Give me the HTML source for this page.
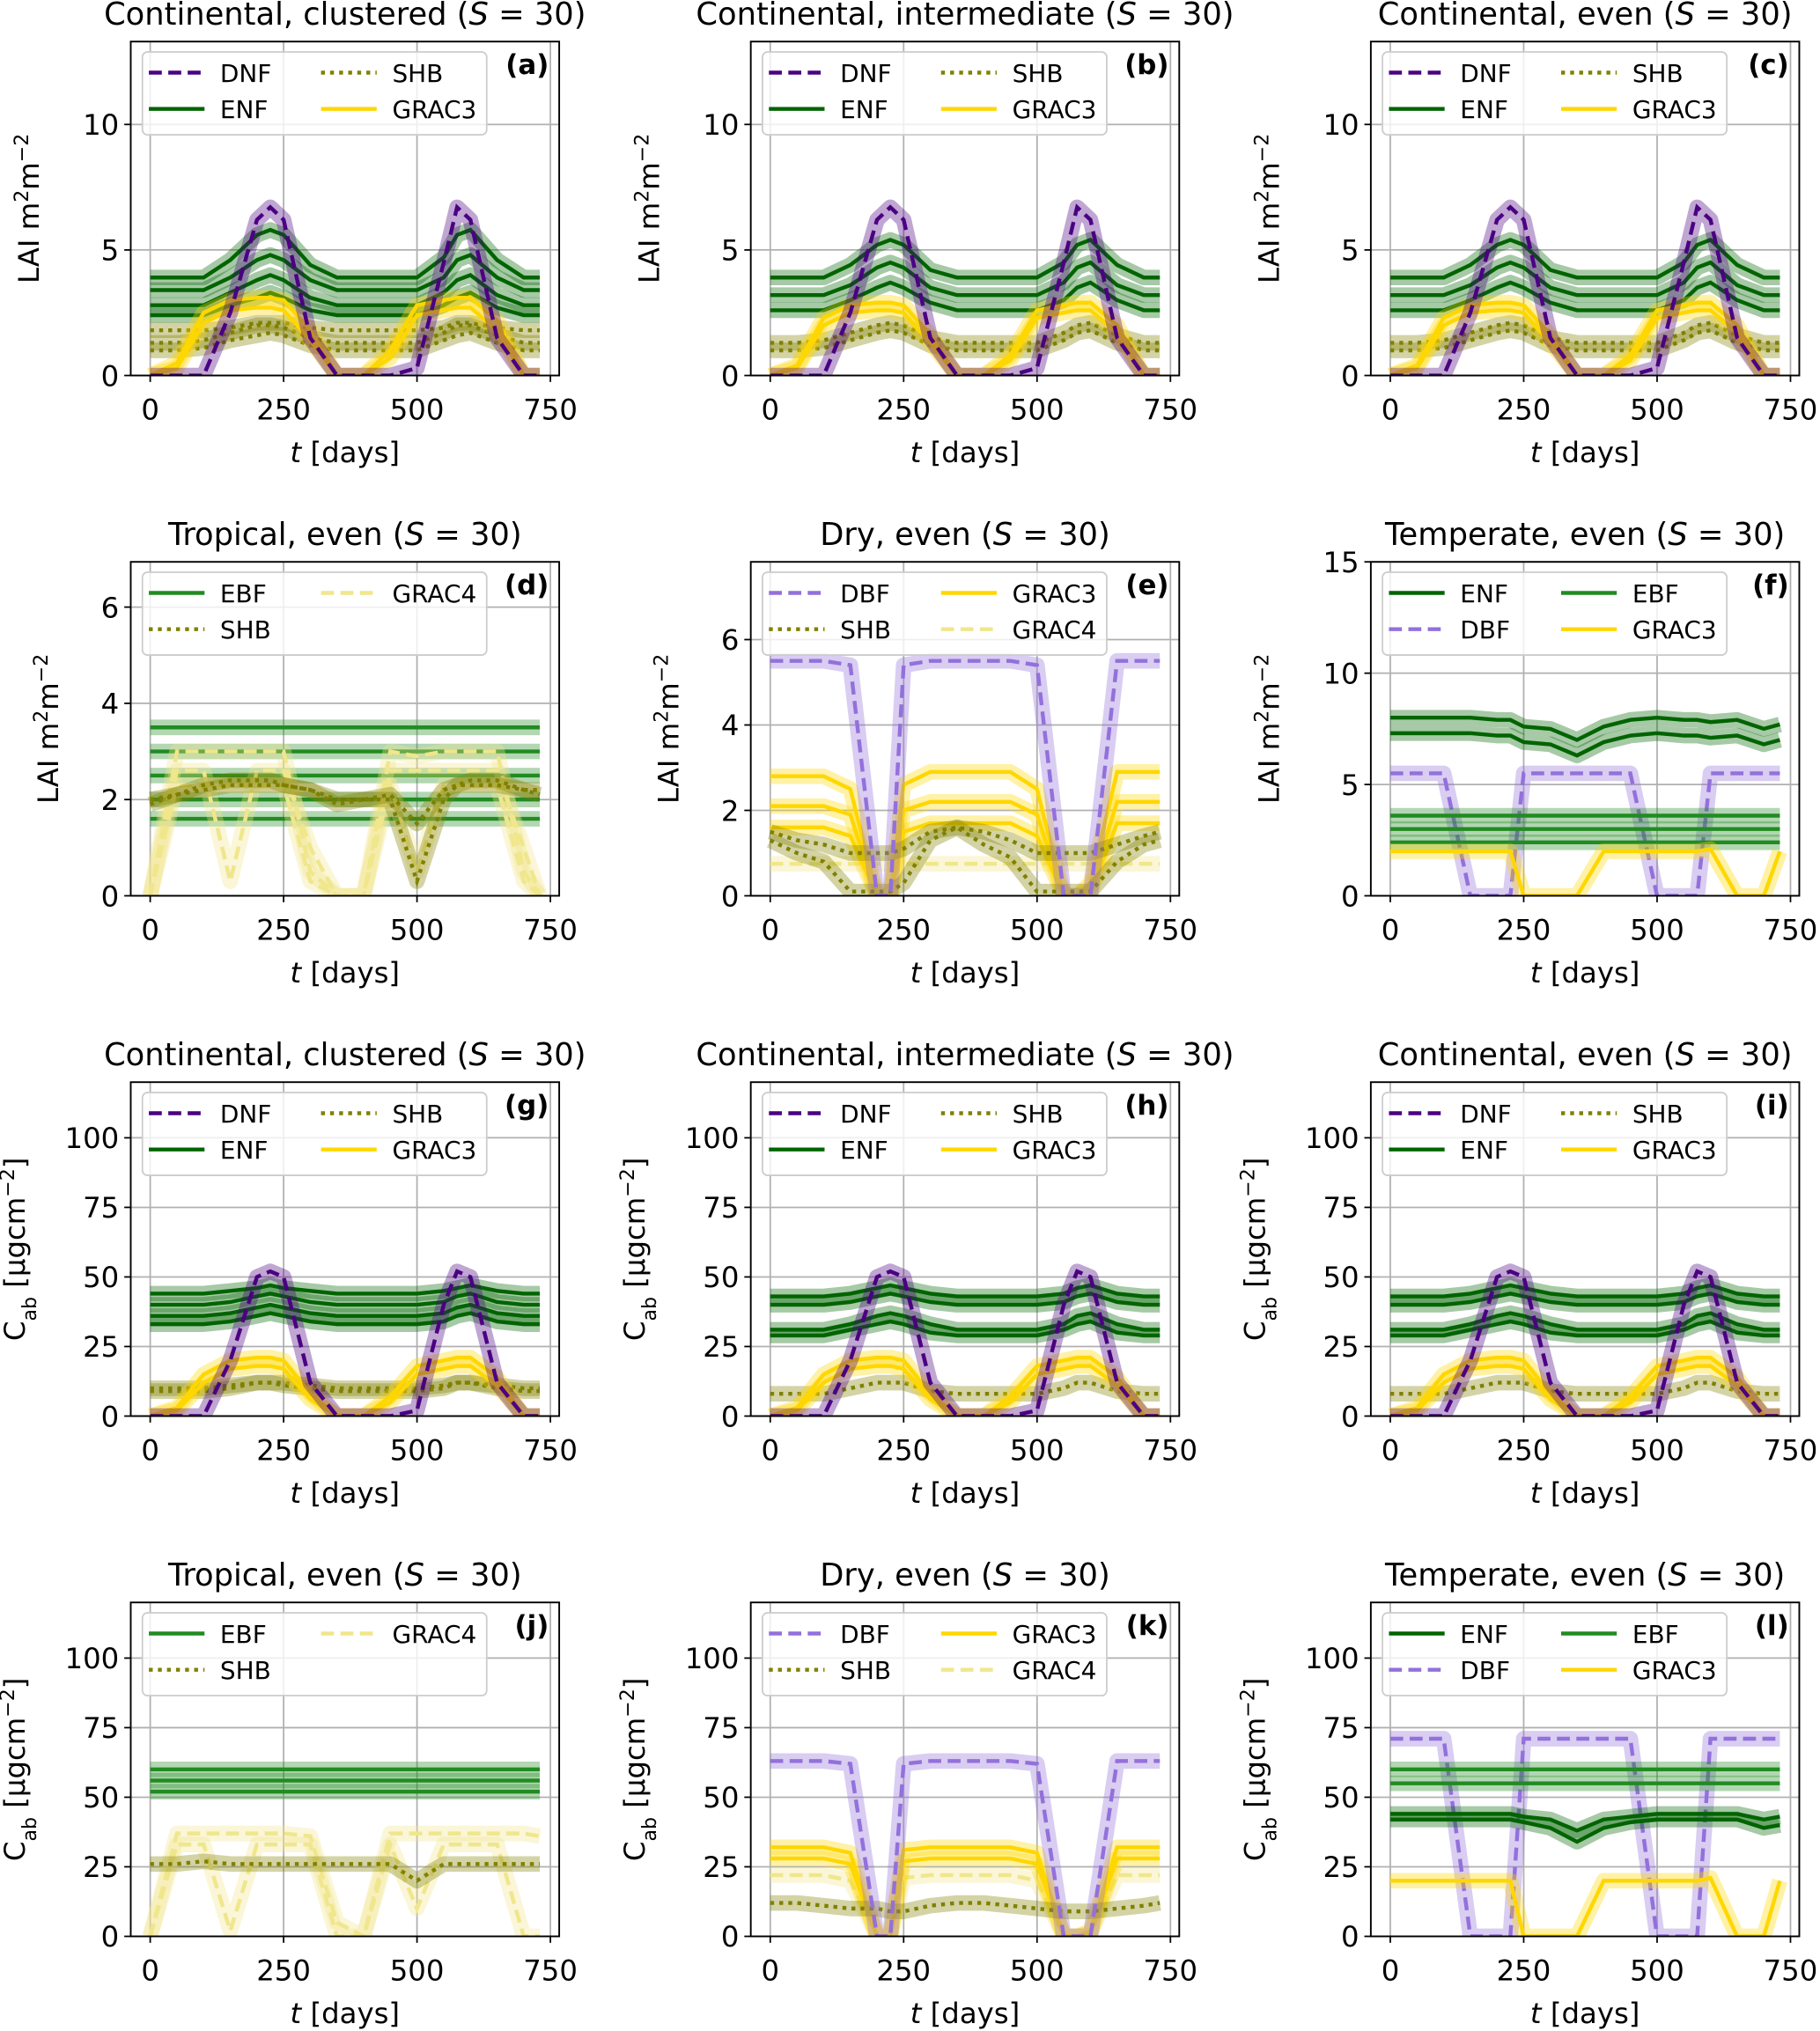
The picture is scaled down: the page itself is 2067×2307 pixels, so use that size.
<!DOCTYPE html>
<html><head><meta charset="utf-8"><style>
html,body{margin:0;padding:0;background:#fff;}
svg{display:block;font-family:"DejaVu Sans","Liberation Sans",sans-serif;}
</style></head><body>
<svg id="fig" xmlns="http://www.w3.org/2000/svg" width="2067" height="2307" viewBox="0 0 1406 1569"></svg>
<script>
const T=[0,50,100,150,200,225,250,300,350,400,450,500,550,575,600,650,700,730];
const xTicks=[0,250,500,750];
// ---- panel a ----
const a_DNF=[0,0,0,2.5,6.2,6.7,6.2,1.5,0,0,0,0.3,4.5,6.7,6.2,1.5,0,0];
const a_ENF1=[3.9,3.9,3.9,4.6,5.6,5.8,5.6,4.4,3.9,3.9,3.9,3.9,4.7,5.6,5.8,4.6,3.9,3.9];
const a_ENF2=[3.4,3.4,3.4,3.9,4.6,4.8,4.6,3.8,3.4,3.4,3.4,3.4,3.9,4.6,4.8,3.9,3.4,3.4];
const a_ENF3=[2.8,2.8,2.8,3.3,3.8,4.0,3.8,3.1,2.8,2.8,2.8,2.8,3.3,3.8,4.0,3.2,2.8,2.8];
const a_ENF4=[2.4,2.4,2.4,2.8,3.1,3.3,3.1,2.6,2.4,2.4,2.4,2.4,2.8,3.1,3.3,2.7,2.4,2.4];
const a_SHB1=[1.8,1.8,1.8,1.9,2.1,2.1,2.1,1.9,1.8,1.8,1.8,1.8,1.9,2.1,2.1,1.9,1.8,1.8];
const a_SHB2=[1.3,1.3,1.4,1.7,2.0,2.0,1.9,1.5,1.3,1.3,1.3,1.3,1.7,2.0,2.0,1.6,1.3,1.3];
const a_SHB3=[1.0,1.0,1.1,1.4,1.6,1.7,1.6,1.2,1.0,1.0,1.0,1.0,1.4,1.6,1.7,1.3,1.0,1.0];
const a_GR1=[0,0.5,2.5,3.0,3.1,3.1,3.0,1.8,0,0,1.0,2.8,3.0,3.1,3.1,2.2,0,0];
const a_GR2=[0,0.3,2.1,2.6,2.7,2.7,2.6,1.4,0,0,0.7,2.4,2.6,2.7,2.7,1.8,0,0];
// ---- panel b / c ----
const b_DNF=[0,0,0,2.5,6.2,6.7,6.2,1.5,0,0,0,0.3,4.5,6.7,6.2,1.5,0,0];
const b_ENF1=[3.9,3.9,3.9,4.4,5.2,5.4,5.2,4.2,3.9,3.9,3.9,3.9,4.5,5.2,5.4,4.4,3.9,3.9];
const b_ENF2=[3.2,3.2,3.2,3.6,4.3,4.5,4.3,3.5,3.2,3.2,3.2,3.2,3.7,4.3,4.5,3.6,3.2,3.2];
const b_ENF3=[2.6,2.6,2.6,3.0,3.5,3.7,3.5,2.9,2.6,2.6,2.6,2.6,3.0,3.5,3.7,3.0,2.6,2.6];
const b_SHB1=[1.3,1.3,1.4,1.7,2.0,2.1,2.0,1.5,1.3,1.3,1.3,1.3,1.7,2.0,2.1,1.6,1.3,1.3];
const b_SHB2=[1.0,1.0,1.1,1.4,1.7,1.8,1.7,1.2,1.0,1.0,1.0,1.0,1.4,1.7,1.8,1.3,1.0,1.0];
const b_GR1=[0,0.4,2.3,2.8,2.9,2.9,2.8,1.6,0,0,0.8,2.6,2.8,2.9,2.9,2.0,0,0];
const b_GR2=[0,0.3,2.0,2.5,2.6,2.6,2.5,1.3,0,0,0.6,2.3,2.5,2.6,2.6,1.7,0,0];
// ---- panel d ----
const d_EBF1=[3.5,3.5,3.5,3.5,3.5,3.5,3.5,3.5,3.5,3.5,3.5,3.5,3.5,3.5,3.5,3.5,3.5,3.5];
const d_EBF2=[3.0,3.0,3.0,3.0,3.0,3.0,3.0,3.0,3.0,3.0,3.0,3.0,3.0,3.0,3.0,3.0,3.0,3.0];
const d_EBF3=[2.5,2.5,2.5,2.5,2.5,2.5,2.5,2.5,2.5,2.5,2.5,2.5,2.5,2.5,2.5,2.5,2.5,2.5];
const d_EBF4=[2.0,2.0,2.0,2.0,2.0,2.0,2.0,2.0,2.0,2.0,2.0,2.0,2.0,2.0,2.0,2.0,2.0,2.0];
const d_EBF5=[1.6,1.6,1.6,1.6,1.6,1.6,1.6,1.6,1.6,1.6,1.6,1.6,1.6,1.6,1.6,1.6,1.6,1.6];
const d_SHB1=[2.0,2.1,2.2,2.3,2.3,2.3,2.3,2.2,2.0,2.0,2.1,1.5,2.2,2.3,2.3,2.3,2.2,2.2];
const d_SHB2=[1.9,2.1,2.3,2.4,2.4,2.4,2.3,2.2,1.9,2.0,2.0,0.3,2.0,2.3,2.4,2.4,2.2,2.1];
const d_GR1=[0,3.0,3.0,3.0,3.0,3.0,3.0,0.5,0,0,3.0,2.9,3.0,3.0,3.0,3.0,0.5,0];
const d_GR2=[0,2.6,2.6,0.3,2.6,2.6,2.6,1.0,0,0,2.6,2.6,2.6,2.6,2.6,2.6,1.0,0];
const d_GR3=[0,2.3,2.3,2.3,2.3,2.3,2.3,0.3,0,0,2.3,0.5,2.3,2.3,2.3,2.3,0.3,0];
// ---- panel e ----
const e_DBF=[5.5,5.5,5.5,5.4,0,0,5.4,5.5,5.5,5.5,5.5,5.4,0,0,0,5.5,5.5,5.5];
const e_GR1=[2.8,2.8,2.8,2.5,0,0,2.6,2.9,2.9,2.9,2.9,2.5,0,0,0.3,2.9,2.9,2.9];
const e_GR2=[2.1,2.1,2.1,1.9,0,0,2.0,2.2,2.2,2.2,2.2,1.9,0,0,0.2,2.2,2.2,2.2];
const e_GR3=[1.6,1.6,1.6,1.4,0,0,1.5,1.7,1.7,1.7,1.7,1.4,0,0,0.1,1.7,1.7,1.7];
const e_SHB1=[1.5,1.3,1.2,1.0,1.0,1.0,1.1,1.5,1.6,1.5,1.3,1.0,1.0,1.0,1.0,1.2,1.4,1.5];
const e_SHB2=[1.3,1.0,0.8,0.1,0.1,0.1,0.3,1.3,1.6,1.2,0.9,0.1,0.1,0.1,0.1,0.8,1.2,1.3];
const e_GR4=[0.75,0.75,0.75,0.75,0.75,0.75,0.75,0.75,0.75,0.75,0.75,0.75,0.75,0.75,0.75,0.75,0.75,0.75];
// ---- panel f ----
const f_ENF1=[8.0,8.0,8.0,8.0,7.9,7.9,7.6,7.5,7.0,7.6,7.9,8.0,7.9,7.9,7.8,7.9,7.5,7.7];
const f_ENF2=[7.3,7.3,7.3,7.3,7.2,7.2,6.9,6.8,6.3,6.9,7.2,7.3,7.2,7.2,7.1,7.2,6.8,7.0];
const f_DBF=[5.5,5.5,5.5,0,0,0,5.5,5.5,5.5,5.5,5.5,0,0,0,5.5,5.5,5.5,5.5];
const f_EBF1=[3.6,3.6,3.6,3.6,3.6,3.6,3.6,3.6,3.6,3.6,3.6,3.6,3.6,3.6,3.6,3.6,3.6,3.6];
const f_EBF2=[3.0,3.0,3.0,3.0,3.0,3.0,3.0,3.0,3.0,3.0,3.0,3.0,3.0,3.0,3.0,3.0,3.0,3.0];
const f_EBF3=[2.4,2.4,2.4,2.4,2.4,2.4,2.4,2.4,2.4,2.4,2.4,2.4,2.4,2.4,2.4,2.4,2.4,2.4];
const f_GR3=[2,2,2,2,2,2,0,0,0,2,2,2,2,2,2.1,0,0,2];
// ---- panel g ----
const g_DNF=[0,0,0,20,50,52,50,12,0,0,0,2,40,52,50,12,0,0];
const g_ENF1=[44,44,44,45,46,47,46,45,44,44,44,44,45,46,47,45,44,44];
const g_ENF2=[40,40,40,41,43,44,43,41,40,40,40,40,41,43,44,41,40,40];
const g_ENF3=[36,36,36,37,39,40,39,37,36,36,36,36,37,39,40,37,36,36];
const g_ENF4=[33,33,33,34,36,37,36,34,33,33,33,33,34,36,37,34,33,33];
const g_SHB1=[10,10,10,11,12,12,12,11,10,10,10,10,11,12,12,11,10,10];
const g_SHB2=[9,9,9,10,12,12,11,10,9,9,9,9,10,12,12,10,9,9];
const g_GR1=[0,3,15,20,21,21,20,8,0,0,7,18,20,21,21,14,0,0];
const g_GR2=[0,2,12,17,18,18,17,6,0,0,5,15,17,18,18,11,0,0];
// ---- panel h / i ----
const h_DNF=[0,0,0,20,50,52,50,12,0,0,0,2,40,52,50,12,0,0];
const h_ENF1=[43,43,43,44,46,47,46,44,43,43,43,43,44,46,47,44,43,43];
const h_ENF2=[40,40,40,41,43,44,43,41,40,40,40,40,41,43,44,41,40,40];
const h_ENF3=[31,31,31,33,36,37,36,33,31,31,31,31,33,36,37,33,31,31];
const h_ENF4=[29,29,29,31,33,34,33,30,29,29,29,29,31,33,34,30,29,29];
const h_SHB=[8,8,8,10,12,12,12,9,8,8,8,8,10,12,12,9,8,8];
const h_GR1=[0,3,15,20,21,21,20,8,0,0,7,18,20,21,21,14,0,0];
const h_GR2=[0,2,12,17,18,18,17,6,0,0,5,15,17,18,18,11,0,0];
// ---- panel j ----
const j_EBF1=[60,60,60,60,60,60,60,60,60,60,60,60,60,60,60,60,60,60];
const j_EBF2=[56,56,56,56,56,56,56,56,56,56,56,56,56,56,56,56,56,56];
const j_EBF3=[52,52,52,52,52,52,52,52,52,52,52,52,52,52,52,52,52,52];
const j_SHB=[26,26,27,26,26,26,26,26,26,26,26,20,26,26,26,26,26,26];
const j_GR1=[0,37,37,37,37,37,37,36,5,0,37,37,37,37,37,37,37,36];
const j_GR2=[0,33,33,2,33,33,33,33,0,0,33,10,33,33,33,33,0,0];
// ---- panel k ----
const k_DBF=[63,63,63,62,0,0,62,63,63,63,63,62,0,0,0,63,63,63];
const k_GR1=[32,32,32,30,0,0,31,32,32,32,32,30,0,0,2,32,32,32];
const k_GR2=[28,28,28,26,0,0,27,28,28,28,28,26,0,0,1,28,28,28];
const k_GR4=[22,22,22,20,0,0,21,22,22,22,22,20,0,0,1,22,22,22];
const k_SHB=[12,12,11,10,10,9,9,11,12,12,11,10,9,9,9,10,11,12];
// ---- panel l ----
const l_DBF=[71,71,71,0,0,0,71,71,71,71,71,0,0,0,71,71,71,71];
const l_ENF1=[44,44,44,44,44,44,43,42,38,42,43,44,44,44,44,44,42,43];
const l_ENF2=[42,42,42,42,42,42,41,39,34,39,41,42,42,42,42,42,39,40];
const l_EBF1=[60,60,60,60,60,60,60,60,60,60,60,60,60,60,60,60,60,60];
const l_EBF2=[55,55,55,55,55,55,55,55,55,55,55,55,55,55,55,55,55,55];
const l_GR3=[20,20,20,20,20,20,0,0,0,20,20,20,20,20,21,0,0,20];

const ST={
 DNF:{c:'#4b0082',d:'10,5'}, ENF:{c:'#006400',d:''}, SHB:{c:'#808000',d:'3,4'},
 GRAC3:{c:'#ffd700',d:''}, GRAC4:{c:'#f0e68c',d:'10,5'}, EBF:{c:'#228b22',d:''}, DBF:{c:'#9370db',d:'10,5'}
};
const colL=[101,580,1059], rowT=[32,434,836,1238], W=331, H=258;
const LAIlab='LAI m<tspan baseline-shift="super" font-size="15">2</tspan>m<tspan baseline-shift="super" font-size="15">−2</tspan>';
const CABlab='C<tspan baseline-shift="sub" font-size="15">ab</tspan> [μgcm<tspan baseline-shift="super" font-size="15">−2</tspan>]';
const P=[
 {id:'a',c:0,r:0,t:'Continental, clustered',ymax:13.3,yt:[0,5,10],yl:LAIlab,lo:-71,leg:[['DNF','ENF'],['SHB','GRAC3']],
  s:[['ENF',a_ENF1],['ENF',a_ENF2],['ENF',a_ENF3],['ENF',a_ENF4],['SHB',a_SHB1],['SHB',a_SHB2],['SHB',a_SHB3],['GRAC3',a_GR1],['GRAC3',a_GR2],['DNF',a_DNF]]},
 {id:'b',c:1,r:0,t:'Continental, intermediate',ymax:13.3,yt:[0,5,10],yl:LAIlab,lo:-71,leg:[['DNF','ENF'],['SHB','GRAC3']],
  s:[['ENF',b_ENF1],['ENF',b_ENF2],['ENF',b_ENF3],['SHB',b_SHB1],['SHB',b_SHB2],['GRAC3',b_GR1],['GRAC3',b_GR2],['DNF',b_DNF]]},
 {id:'c',c:2,r:0,t:'Continental, even',ymax:13.3,yt:[0,5,10],yl:LAIlab,lo:-71,leg:[['DNF','ENF'],['SHB','GRAC3']],
  s:[['ENF',b_ENF1],['ENF',b_ENF2],['ENF',b_ENF3],['SHB',b_SHB1],['SHB',b_SHB2],['GRAC3',b_GR1],['GRAC3',b_GR2],['DNF',b_DNF]]},
 {id:'d',c:0,r:1,t:'Tropical, even',ymax:6.94,yt:[0,2,4,6],yl:LAIlab,lo:-56,leg:[['EBF','SHB'],['GRAC4']],
  s:[['EBF',d_EBF1],['EBF',d_EBF2],['EBF',d_EBF3],['EBF',d_EBF4],['EBF',d_EBF5],['GRAC4',d_GR1],['GRAC4',d_GR2],['GRAC4',d_GR3],['SHB',d_SHB1],['SHB',d_SHB2]]},
 {id:'e',c:1,r:1,t:'Dry, even',ymax:7.82,yt:[0,2,4,6],yl:LAIlab,lo:-56,leg:[['DBF','SHB'],['GRAC3','GRAC4']],
  s:[['GRAC4',e_GR4],['GRAC3',e_GR1],['GRAC3',e_GR2],['GRAC3',e_GR3],['SHB',e_SHB1],['SHB',e_SHB2],['DBF',e_DBF]]},
 {id:'f',c:2,r:1,t:'Temperate, even',ymax:15,yt:[0,5,10,15],yl:LAIlab,lo:-71,leg:[['ENF','DBF'],['EBF','GRAC3']],
  s:[['ENF',f_ENF1],['ENF',f_ENF2],['DBF',f_DBF],['EBF',f_EBF1],['EBF',f_EBF2],['EBF',f_EBF3],['GRAC3',f_GR3]]},
 {id:'g',c:0,r:2,t:'Continental, clustered',ymax:120,yt:[0,25,50,75,100],yl:CABlab,lo:-82,leg:[['DNF','ENF'],['SHB','GRAC3']],
  s:[['ENF',g_ENF1],['ENF',g_ENF2],['ENF',g_ENF3],['ENF',g_ENF4],['SHB',g_SHB1],['SHB',g_SHB2],['GRAC3',g_GR1],['GRAC3',g_GR2],['DNF',g_DNF]]},
 {id:'h',c:1,r:2,t:'Continental, intermediate',ymax:120,yt:[0,25,50,75,100],yl:CABlab,lo:-82,leg:[['DNF','ENF'],['SHB','GRAC3']],
  s:[['ENF',h_ENF1],['ENF',h_ENF2],['ENF',h_ENF3],['ENF',h_ENF4],['SHB',h_SHB],['GRAC3',h_GR1],['GRAC3',h_GR2],['DNF',h_DNF]]},
 {id:'i',c:2,r:2,t:'Continental, even',ymax:120,yt:[0,25,50,75,100],yl:CABlab,lo:-82,leg:[['DNF','ENF'],['SHB','GRAC3']],
  s:[['ENF',h_ENF1],['ENF',h_ENF2],['ENF',h_ENF3],['ENF',h_ENF4],['SHB',h_SHB],['GRAC3',h_GR1],['GRAC3',h_GR2],['DNF',h_DNF]]},
 {id:'j',c:0,r:3,t:'Tropical, even',ymax:120,yt:[0,25,50,75,100],yl:CABlab,lo:-82,leg:[['EBF','SHB'],['GRAC4']],
  s:[['EBF',j_EBF1],['EBF',j_EBF2],['EBF',j_EBF3],['GRAC4',j_GR1],['GRAC4',j_GR2],['SHB',j_SHB]]},
 {id:'k',c:1,r:3,t:'Dry, even',ymax:120,yt:[0,25,50,75,100],yl:CABlab,lo:-82,leg:[['DBF','SHB'],['GRAC3','GRAC4']],
  s:[['GRAC4',k_GR4],['GRAC3',k_GR1],['GRAC3',k_GR2],['SHB',k_SHB],['DBF',k_DBF]]},
 {id:'l',c:2,r:3,t:'Temperate, even',ymax:120,yt:[0,25,50,75,100],yl:CABlab,lo:-82,leg:[['ENF','DBF'],['EBF','GRAC3']],
  s:[['DBF',l_DBF],['EBF',l_EBF1],['EBF',l_EBF2],['ENF',l_ENF1],['ENF',l_ENF2],['GRAC3',l_GR3]]}
];
const svg=document.getElementById('fig');
const NS='http://www.w3.org/2000/svg';
function mk(tag,attrs,parent,html){const e=document.createElementNS(NS,tag);for(const k in attrs)e.setAttribute(k,attrs[k]);if(html!==undefined)e.innerHTML=html;(parent||svg).appendChild(e);return e;}
P.forEach(p=>{
 const L=colL[p.c],Tp=rowT[p.r],B=Tp+H,R=L+W;
 const xs=t=>L+(t+36.5)/803*W, ys=v=>B-v/p.ymax*H;
 const g=mk('g',{});
 
 
 const clipId='clip'+p.id;
 const cp=mk('clipPath',{id:clipId},g);mk('rect',{x:L,y:Tp,width:W,height:H},cp);
 xTicks.forEach(t=>{const ln=mk('line',{x1:xs(t),x2:xs(t),y1:Tp,y2:B,stroke:'#b0b0b0','stroke-width':1.2},g);
  
  mk('line',{x1:xs(t),x2:xs(t),y1:B,y2:B+5,stroke:'#000','stroke-width':1.2},g);
  const tx=mk('text',{x:xs(t),y:B+34,'font-size':22,'text-anchor':'middle'},g,String(t));
  });
 p.yt.forEach(v=>{const ln=mk('line',{x1:L,x2:R,y1:ys(v),y2:ys(v),stroke:'#b0b0b0','stroke-width':1.2},g);
  
  mk('line',{x1:L-5,x2:L,y1:ys(v),y2:ys(v),stroke:'#000','stroke-width':1.2},g);
  const tx=mk('text',{x:L-9,y:ys(v)+8,'font-size':22,'text-anchor':'end'},g,String(v));
  });
 const sg=mk('g',{'clip-path':'url(#'+clipId+')'},g);
 p.s.forEach(([sp,vals])=>{
  const st=ST[sp];const pts=vals.map((v,i)=>xs(T[i]).toFixed(1)+','+ys(v).toFixed(1)).join(' ');
  const band=mk('polyline',{points:pts,fill:'none',stroke:st.c,'stroke-width':12,'stroke-opacity':0.35,'stroke-linejoin':'round'},sg);
  
  const ln=mk('polyline',{points:pts,fill:'none',stroke:st.c,'stroke-width':3,'stroke-dasharray':st.d},sg);
  
 });
 const fr=mk('rect',{x:L,y:Tp,width:W,height:H,fill:'none',stroke:'#000','stroke-width':1.3},g);
 
 const lg=mk('g',{},g);
 
 mk('rect',{x:L+9,y:Tp+8,width:266,height:64,rx:4,fill:'#fff','fill-opacity':0.8,stroke:'#ccc','stroke-width':1.2},lg);
 p.leg.forEach((col,ci)=>col.forEach((sp,ri)=>{
  const st=ST[sp];const hx=L+14+ci*133, yy=Tp+24+ri*28;
  mk('line',{x1:hx,x2:hx+43,y1:yy,y2:yy,stroke:st.c,'stroke-width':3,'stroke-dasharray':st.d},lg);
  const tx=mk('text',{x:hx+55,y:yy+7,'font-size':19},lg,sp);
  
 }));
 const pl=mk('text',{x:R-8,y:Tp+25,'font-size':21,'font-weight':'bold','text-anchor':'end'},g,'('+p.id+')');
 
 const ti=mk('text',{x:L+W/2,y:Tp-13,'font-size':24,'text-anchor':'middle'},g,p.t+' (<tspan font-style="italic">S</tspan> = 30)');
 
 const xl=mk('text',{x:L+W/2,y:B+67,'font-size':22,'text-anchor':'middle'},g,'<tspan font-style="italic">t</tspan> [days]');
 
 const yx=L+p.lo, yy=Tp+H/2;
 const yl=mk('text',{x:yx,y:yy,'font-size':22,'text-anchor':'middle',transform:'rotate(-90 '+yx+' '+yy+')'},g,p.yl);
 
});
</script>
</body></html>
